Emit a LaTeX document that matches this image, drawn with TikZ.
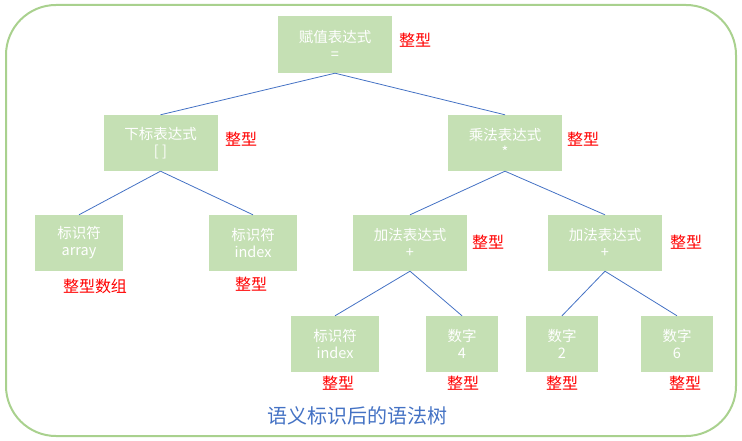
\documentclass[tikz,border=0pt]{standalone}
\usepackage{fontspec}
\setmainfont{Noto Sans CJK SC}
\definecolor{boxgreen}{HTML}{C5E0B4}
\definecolor{framegreen}{HTML}{A9D18E}
\definecolor{linkblue}{HTML}{4472C4}
\definecolor{typered}{HTML}{FF0000}
\begin{document}
\begin{tikzpicture}[x=1pt,y=-1pt,
  tbox/.style={fill=boxgreen,draw=none,text=white,minimum height=56pt,align=center,
    font=\fontsize{14.5}{17}\selectfont,inner sep=0pt},
  wide/.style={tbox,minimum width=114pt},
  mid/.style={tbox,minimum width=88pt},
  narrow/.style={tbox,minimum width=72pt},
  tlabel/.style={text=typered,font=\fontsize{16}{18}\selectfont,inner sep=0pt},
  link/.style={draw=linkblue,line width=0.8pt}]
\useasboundingbox (0,0) rectangle (742,441);
\draw[framegreen,line width=2pt,rounded corners=50pt] (6,5) rectangle (736,436);

\node[wide,minimum height=57pt] (root) at (335,44.5) {赋值表达式\\=};
\node[wide] (sub) at (160.5,143) {下标表达式\\{[ ]}};
\node[wide] (mul) at (505,143) {乘法表达式\\*};
\node[mid] (arr) at (79,243) {标识符\\array};
\node[mid] (idx) at (253,243) {标识符\\index};
\node[wide] (add1) at (410,243) {加法表达式\\+};
\node[wide] (add2) at (605,243) {加法表达式\\+};
\node[mid] (idx2) at (335,344) {标识符\\index};
\node[narrow] (n4) at (462,344) {数字\\4};
\node[narrow] (n2) at (562,344) {数字\\2};
\node[narrow] (n6) at (677,344) {数字\\6};

\draw[link] (root.south) -- (sub.north);
\draw[link] (root.south) -- (mul.north);
\draw[link] (sub.south) -- (arr.north);
\draw[link] (sub.south) -- (idx.north);
\draw[link] (mul.south) -- (add1.north);
\draw[link] (mul.south) -- (add2.north);
\draw[link] (add1.south) -- (idx2.north);
\draw[link] (add1.south) -- (n4.north);
\draw[link] (add2.south) -- (n2.north);
\draw[link] (add2.south) -- (n6.north);

\node[tlabel] (lroot) at (415,40) {整型};
\node[tlabel] (lsub) at (241,139) {整型};
\node[tlabel] (lmul) at (583,139) {整型};
\node[tlabel] (larr) at (95,286) {整型数组};
\node[tlabel] (lidx) at (251,284) {整型};
\node[tlabel] (ladd1) at (488,242) {整型};
\node[tlabel] (ladd2) at (686,242) {整型};
\node[tlabel] (lidx2) at (338,383) {整型};
\node[tlabel] (ln4) at (463,383) {整型};
\node[tlabel] (ln2) at (562,383) {整型};
\node[tlabel] (ln6) at (685,383) {整型};

\node[text=linkblue,font=\fontsize{20}{23}\selectfont,inner sep=0pt] (cap) at (357,416) {语义标识后的语法树};
\end{tikzpicture}
\end{document}
